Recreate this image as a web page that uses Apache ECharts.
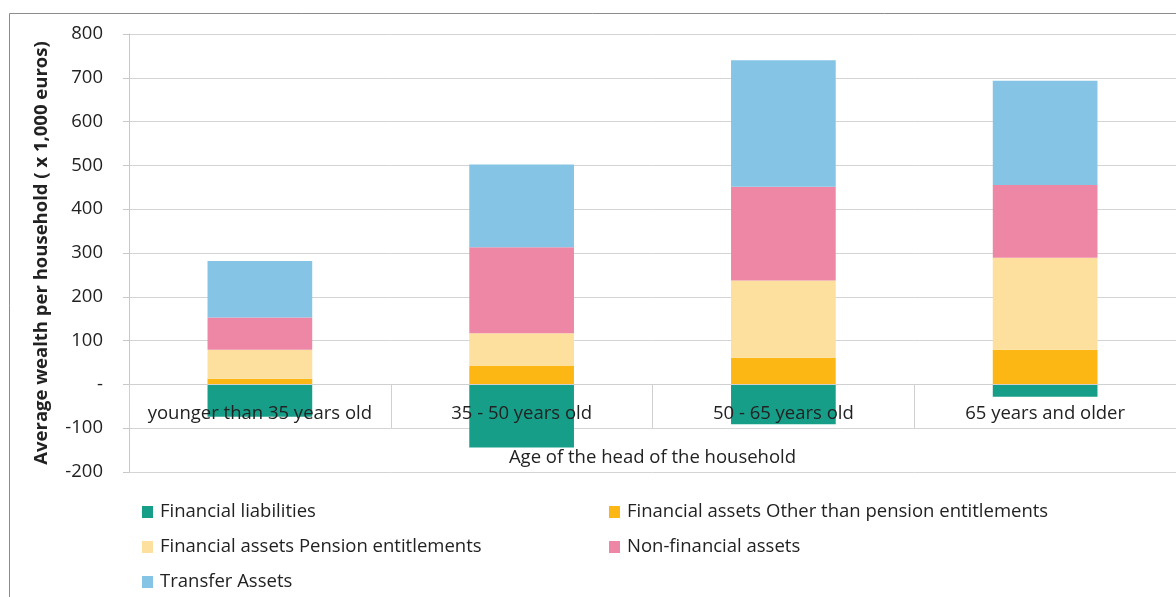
<!DOCTYPE html>
<html>
<head>
<meta charset="utf-8">
<script src="https://cdn.jsdelivr.net/npm/echarts@6/dist/echarts.min.js"></script>
<style>
  html, body { margin: 0; padding: 0; background: #fff; }
  #chart { width: 1176px; height: 597px; }
</style>
</head>
<body>
<div id="chart"></div>
<script>
// age groups
const categories = ['younger than 35 years old', '35 - 50 years old', '50 - 65 years old', '65 years and older'];

// values x 1,000 euros
const liabilities = [-74, -144, -91, -28];
const otherFinancial = [13, 42, 61, 79];
const pension = [66, 75, 176, 210];
const nonFinancial = [74, 196, 214, 166];
const transfer = [129, 189, 289, 238];

const yTicks = { min: -200, max: 800, interval: 100 };

const font = 'Open Sans';
const fs = 18.5;
const chart = echarts.init(document.getElementById('chart'));

function bar(name, data, color) {
  return {
    name: name,
    type: 'bar',
    stack: 'wealth',
    barWidth: '40%',
    data: data,
    itemStyle: { color: color },
    emphasis: { disabled: true }
  };
}

const legendText = { fontSize: fs, color: '#222', fontFamily: font, lineHeight: 20, padding: [0, 0, 0, 2] };

const option = {
  animation: false,
  textStyle: { fontFamily: font },
  graphic: [{
    type: 'polyline',
    shape: { points: [[9.5, 597], [9.5, 13.5], [1176, 13.5]] },
    style: { stroke: '#8c8c8c', lineWidth: 1, fill: null }
  }],
  grid: { left: 129, right: -1, top: 34, bottom: 125 },
  xAxis: {
    type: 'category',
    z: 5,
    data: categories,
    name: 'Age of the head of the household',
    nameLocation: 'middle',
    nameGap: -24,
    nameTextStyle: { fontSize: fs, color: '#222', fontFamily: font },
    axisLine: { onZero: true, lineStyle: { color: '#d0d0d0' } },
    axisTick: { show: true, length: 44, lineStyle: { color: '#d0d0d0' } },
    axisLabel: { fontSize: fs, color: '#222', margin: -68, fontFamily: font, interval: 0 }
  },
  yAxis: {
    type: 'value',
    min: yTicks.min,
    max: yTicks.max,
    interval: yTicks.interval,
    name: 'Average wealth per household ( x 1,000 euros)',
    nameLocation: 'middle',
    nameGap: 78,
    nameTextStyle: { fontSize: fs, fontWeight: 'bold', color: '#222', fontFamily: font },
    axisLine: { show: true, lineStyle: { color: '#c8c8c8' } },
    axisTick: { show: true, length: 6, lineStyle: { color: '#c8c8c8' } },
    axisLabel: {
      fontSize: fs, color: '#222', margin: 26, fontFamily: font,
      formatter: v => (v === 0 ? '-' : String(v))
    },
    splitLine: { lineStyle: { color: '#d4d4d4' } }
  },
  legend: [{
    orient: 'vertical',
    left: 142,
    top: 502,
    padding: 0,
    itemWidth: 11,
    itemHeight: 12,
    itemGap: 15,
    icon: 'rect',
    selectedMode: false,
    textStyle: legendText,
    data: ['Financial liabilities', 'Financial assets Pension entitlements', 'Transfer Assets']
  }, {
    orient: 'vertical',
    left: 609,
    top: 502,
    padding: 0,
    itemWidth: 11,
    itemHeight: 12,
    itemGap: 15,
    icon: 'rect',
    selectedMode: false,
    textStyle: legendText,
    data: ['Financial assets Other than pension entitlements', 'Non-financial assets']
  }],
  series: [
    bar('Financial liabilities', liabilities, '#179e89'),
    bar('Financial assets Other than pension entitlements', otherFinancial, '#fdb714'),
    bar('Financial assets Pension entitlements', pension, '#fde09d'),
    bar('Non-financial assets', nonFinancial, '#ee87a6'),
    bar('Transfer Assets', transfer, '#85c4e4')
  ]
};

chart.setOption(option);
</script>
</body>
</html>
